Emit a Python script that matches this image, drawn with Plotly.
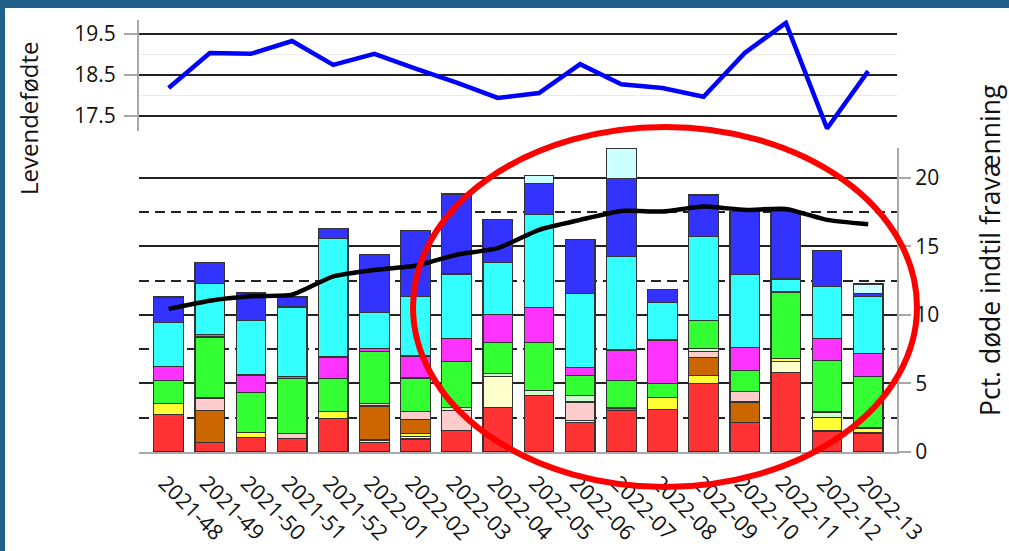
import plotly.graph_objects as go

# ---------------------------------------------------------------- data
weeks = ["2021-48", "2021-49", "2021-50", "2021-51", "2021-52",
         "2022-01", "2022-02", "2022-03", "2022-04", "2022-05",
         "2022-06", "2022-07", "2022-08", "2022-09", "2022-10",
         "2022-11", "2022-12", "2022-13"]

# live born per litter (top panel)
levendefodte = [18.18, 19.03, 19.01, 19.32, 18.74, 19.01, 18.65, 18.31, 17.94,
                18.06, 18.76, 18.27, 18.18, 17.97, 19.03, 19.76, 17.20, 18.59]

# running percentage dead until weaning (black line)
pct_dode = [10.43, 11.03, 11.35, 11.47, 12.80, 13.27, 13.58, 14.38, 14.86,
            16.20, 16.92, 17.57, 17.53, 17.90, 17.65, 17.72, 16.92, 16.60]

# weekly percentage dead, split into categories (stacked bars, bottom -> top)
kat_roed = [2.74, 0.68, 1.07, 0.97, 2.47, 0.68, 0.95, 1.58, 3.27,
            4.13, 2.13, 3.03, 3.10, 4.99, 2.13, 5.82, 1.53, 1.33]
kat_lysgul = [0, 0, 0, 0, 0, 0, 0.20, 0, 2.26,
              0, 0, 0, 0, 0, 0, 0.80, 0, 0.12]
kat_gul = [0.80, 0, 0.38, 0, 0.49, 0.19, 0.20, 0, 0,
           0, 0.18, 0, 0.90, 0.59, 0, 0.19, 0.97, 0.30]
kat_brun = [0, 2.37, 0, 0, 0, 2.48, 1.03, 0, 0,
            0, 0, 0.18, 0, 1.33, 1.51, 0, 0, 0]
kat_rosa = [0, 0.88, 0, 0.39, 0, 0.19, 0.55, 1.47, 0,
            0, 1.33, 0, 0, 0.39, 0.77, 0, 0, 0]
kat_lysgroen = [0, 0, 0, 0, 0, 0, 0, 0.17, 0.17,
                0.38, 0.48, 0, 0, 0.22, 0, 0, 0.41, 0]
kat_groen = [1.70, 4.46, 2.91, 3.97, 2.37, 3.78, 2.47, 3.40, 2.30,
             3.50, 1.48, 2.03, 1.02, 2.06, 1.51, 4.85, 3.78, 3.73]
kat_magenta = [1.01, 0.20, 1.26, 0.20, 1.60, 0.20, 1.60, 1.65, 2.01,
               2.50, 0.58, 2.20, 3.15, 0, 1.67, 0, 1.58, 1.70]
kat_cyan = [3.20, 3.70, 3.96, 5.04, 8.61, 2.66, 4.32, 4.70, 3.81,
            6.78, 5.36, 6.83, 2.75, 6.13, 5.33, 0.95, 3.80, 4.17]
kat_blaa = [1.85, 1.50, 2.01, 0.73, 0.73, 4.20, 4.80, 5.84, 3.10,
            2.31, 3.93, 5.65, 0.95, 3.03, 4.61, 4.92, 2.60, 0.19]
kat_lyscyan = [0, 0, 0, 0, 0, 0, 0, 0, 0,
               0.53, 0, 2.18, 0, 0, 0, 0, 0, 0.70]

stack = [
    ("Rød", kat_roed, "#FF3333"),
    ("Lysgul", kat_lysgul, "#FFFFCC"),
    ("Gul", kat_gul, "#FFFF33"),
    ("Brun", kat_brun, "#CC6600"),
    ("Rosa", kat_rosa, "#FFCCCC"),
    ("Lysgrøn", kat_lysgroen, "#CCFFCC"),
    ("Grøn", kat_groen, "#33FF33"),
    ("Magenta", kat_magenta, "#FF33FF"),
    ("Cyan", kat_cyan, "#33FFFF"),
    ("Blå", kat_blaa, "#3333FF"),
    ("Lyscyan", kat_lyscyan, "#CCFFFF"),
]

# ---------------------------------------------------------------- layout geometry (px)
W, H = 1009, 551
ML, MR, MT, MB = 139, 112, 20, 99
PW, PH = W - ML - MR, H - MT - MB


def px_x(p):
    return (p - ML) / PW


def px_y(p):
    return (H - MB - p) / PH


FONT = "Open Sans"
TXT = "#111111"
AXIS_GREY = "#A8A8A8"
GRID = "#222222"
FRAME = "#20618B"

fig = go.Figure()

for name, vals, color in stack:
    fig.add_trace(go.Bar(
        x=weeks, y=[v if v else None for v in vals], name=name,
        marker=dict(color=color, line=dict(color="#333333", width=1.2)),
        width=0.72, xaxis="x", yaxis="y", showlegend=False,
    ))

fig.add_trace(go.Scatter(
    x=weeks, y=pct_dode, mode="lines",
    line=dict(color="#000000", width=4.5, shape="spline", smoothing=0.5),
    xaxis="x", yaxis="y", showlegend=False,
))

fig.add_trace(go.Scatter(
    x=weeks, y=levendefodte, mode="lines",
    line=dict(color="#0000FF", width=4.5),
    xaxis="x2", yaxis="y2", showlegend=False,
))

xrange = [-0.72, 17.70]

fig.update_layout(
    width=W, height=H,
    margin=dict(l=ML, r=MR, t=MT, b=MB, autoexpand=False),
    paper_bgcolor="white", plot_bgcolor="white",
    barmode="stack", bargap=0.28,
    font=dict(family=FONT, size=21, color=TXT),
    xaxis=dict(
        domain=[0, 1], anchor="y", type="category", range=xrange,
        showgrid=False, showline=True, linecolor=AXIS_GREY, linewidth=2,
        ticks="", tickangle=45, ticklabelstandoff=8, ticklabelshift=-4,
        tickfont=dict(size=21.5, color=TXT),
    ),
    yaxis=dict(
        domain=[0, px_y(148)], anchor="x", side="right",
        range=[0, 22.16], tick0=0, dtick=5,
        showline=True, linecolor=AXIS_GREY, linewidth=2,
        ticks="outside", ticklen=12, tickwidth=2, tickcolor=AXIS_GREY,
        showgrid=True, gridcolor=GRID, gridwidth=1.5, zeroline=False,
        minor=dict(tick0=0, dtick=2.5, showgrid=True, gridcolor=GRID,
                   gridwidth=1.5, griddash="10px,6px", ticks=""),
        tickfont=dict(size=21, color=TXT),
    ),
    xaxis2=dict(
        domain=[0, 1], anchor="y2", type="category", range=xrange,
        showgrid=False, showline=False, showticklabels=False, ticks="",
    ),
    yaxis2=dict(
        domain=[px_y(130.5), 1], anchor="x2", side="left",
        range=[17.15, 19.83], tick0=17.5, dtick=1,
        showline=True, linecolor=AXIS_GREY, linewidth=2,
        ticks="outside", ticklen=13, tickwidth=2, tickcolor=AXIS_GREY,
        showgrid=True, gridcolor=GRID, gridwidth=1.5, zeroline=False,
        minor=dict(tick0=17.5, dtick=0.5, showgrid=True, gridcolor="#EBEBEB",
                   gridwidth=1.3, ticks=""),
        tickfont=dict(size=21, color=TXT), ticklabelstandoff=4,
    ),
)

# axis titles
fig.add_annotation(
    text="Levendefødte", xref="paper", yref="paper",
    x=px_x(28), y=px_y(118), textangle=-90, showarrow=False,
    font=dict(size=24, color=TXT, family=FONT), xanchor="center", yanchor="middle",
)
fig.add_annotation(
    text="Pct. døde indtil fravænning", xref="paper", yref="paper",
    x=px_x(990), y=px_y(250), textangle=-90, showarrow=False,
    font=dict(size=26.5, color=TXT, family=FONT), xanchor="center", yanchor="middle",
)

# frame bands along the top and left edges
fig.add_shape(type="rect", xref="paper", yref="paper",
              x0=px_x(0), x1=px_x(W), y0=px_y(8), y1=px_y(0),
              fillcolor=FRAME, line=dict(width=0), layer="above")
fig.add_shape(type="rect", xref="paper", yref="paper",
              x0=px_x(0), x1=px_x(5), y0=px_y(H), y1=px_y(0),
              fillcolor=FRAME, line=dict(width=0), layer="above")

# highlight ring around 2022 weeks
fig.add_shape(type="circle", xref="paper", yref="paper",
              x0=px_x(413), x1=px_x(917), y0=px_y(487), y1=px_y(127),
              line=dict(color="#FF0000", width=6), layer="above")

fig.write_html("out.html")
